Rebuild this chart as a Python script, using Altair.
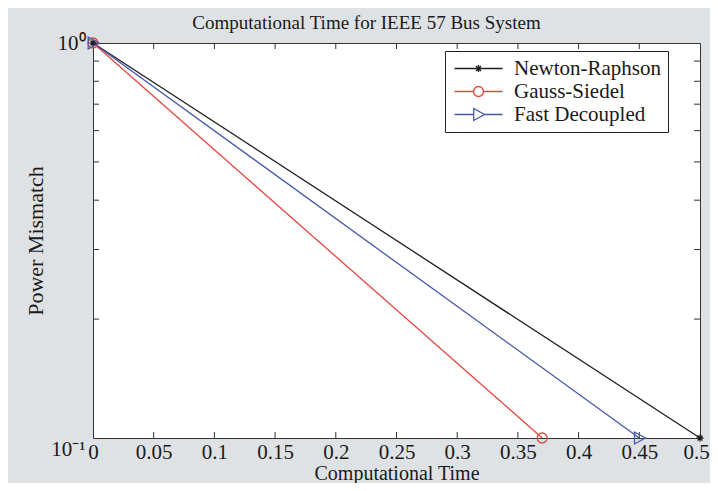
import altair as alt
import pandas as pd

# ---- data ----
series = ["Newton-Raphson", "Gauss-Siedel", "Fast Decoupled"]
time_start = [0.0, 0.0, 0.0]
time_end = [0.5, 0.37, 0.45]
mismatch_start = [1.0, 1.0, 1.0]
mismatch_end = [0.1, 0.1, 0.1]

x_tick_values = [0, 0.05, 0.1, 0.15, 0.2, 0.25, 0.3, 0.35, 0.4, 0.45, 0.5]
x_inner_ticks = [0.05, 0.1, 0.15, 0.2, 0.25, 0.3, 0.35, 0.4, 0.45]
y_tick_values = [0.1, 1]
y_minor_ticks = [0.2, 0.3, 0.4, 0.5, 0.6, 0.7, 0.8, 0.9]

# ---- styles ----
colors = ["#1e1e1e", "#e2463f", "#4758a6"]
marker_shapes = [
    "M-1,0H1M0,-1V1M-0.7,-0.7L0.7,0.7M-0.7,0.7L0.7,-0.7",
    "circle",
    "M-0.8,-1L1,0L-0.8,1Z",
]
marker_sizes = [49, 100, 144]
legend_paths = [
    "M-4,0H4M-0.6,0H0.6M0,-0.6V0.6M-0.42,-0.42L0.42,0.42M-0.42,0.42L0.42,-0.42",
    "M-4,0H-0.83M0.83,0H4M0.83,0A0.83,0.83,0,1,1,-0.83,0A0.83,0.83,0,1,1,0.83,0",
    "M-4,0H-0.8M1,0H4M-0.8,-1L1,0L-0.8,1Z",
]
FONT = "Liberation Serif"
INK = "#1a1a1a"
W, H = 607, 395

rows = []
for s, t0, t1, m0, m1 in zip(series, time_start, time_end, mismatch_start, mismatch_end):
    rows.append({"series": s, "time": t0, "mismatch": m0})
    rows.append({"series": s, "time": t1, "mismatch": m1})
df = pd.DataFrame(rows)

x_scale = alt.Scale(domain=[0, 0.5], nice=False, zero=False)
y_scale = alt.Scale(type="log", domain=[0.1, 1], nice=False)
color_scale = alt.Scale(domain=series, range=colors)

x_axis = alt.Axis(
    values=x_tick_values, format="~g", domain=False, ticks=False, labelFlush=False,
    labelOverlap=False, grid=False, labelFont=FONT, labelFontSize=21, labelColor=INK,
    labelPadding=3,
    labelOffset={"condition": {"test": "datum.value >= 0.5", "value": -4}, "value": 0},
    title="Computational Time", titleFont=FONT, titleFontSize=20,
    titleFontWeight="normal", titleColor=INK, titleBaseline="alphabetic",
    titleAlign="center", titleX=W / 2, titleY=41,
)
y_axis = alt.Axis(
    values=y_tick_values, labelExpr="datum.value >= 1 ? '10\u2070' : '10\u207b\u00b9'",
    labelBaseline={"condition": {"test": "datum.value < 0.5", "value": "top"}, "value": "middle"},
    domain=False, ticks=False, grid=False, labelFont=FONT, labelOverlap=False,
    labelFontSize=21, labelColor=INK, labelPadding=8,
    title="Power Mismatch", titleFont=FONT, titleFontSize=22,
    titleFontWeight="normal", titleColor=INK, titleBaseline="alphabetic",
    titleAlign="center", titleAngle=270, titleX=-51, titleY=H / 2,
)

base = alt.Chart(df)

# lines, one layer per series (drawn in legend order); first carries the axes
line_layers = []
for i, (s, c) in enumerate(zip(series, colors)):
    sub = base.transform_filter(alt.datum.series == s)
    if i == 0:
        enc = dict(x=alt.X("time:Q", scale=x_scale, axis=x_axis),
                   y=alt.Y("mismatch:Q", scale=y_scale, axis=y_axis))
    else:
        enc = dict(x=alt.X("time:Q", scale=x_scale), y=alt.Y("mismatch:Q", scale=y_scale))
    line_layers.append(sub.mark_line(color=c, strokeWidth=1.3).encode(**enc))

point_layers = []
for s, c, shp, sz in zip(series, colors, marker_shapes, marker_sizes):
    sub = base.transform_filter(alt.datum.series == s)
    point_layers.append(
        sub.mark_point(shape=shp, size=sz, color=c, filled=False, strokeWidth=1.3, opacity=1)
        .encode(x=alt.X("time:Q", scale=x_scale), y=alt.Y("mismatch:Q", scale=y_scale))
    )

# legend (generated from the scales, no marks drawn)
legend_layer = base.transform_filter("false").mark_point(filled=False, strokeWidth=1.3, opacity=1).encode(
    x=alt.X("time:Q", scale=x_scale),
    y=alt.Y("mismatch:Q", scale=y_scale),
    color=alt.Color("series:N", scale=color_scale,
                    legend=alt.Legend(title=None, orient="none", legendX=352, legendY=8)),
    shape=alt.Shape("series:N", scale=alt.Scale(domain=series, range=legend_paths),
                    legend=alt.Legend(title=None, orient="none", legendX=352, legendY=8)),
)

# inward MATLAB-style ticks
xt = pd.DataFrame({"v": x_inner_ticks})
yt = pd.DataFrame({"v": y_minor_ticks})
tick_style = dict(color="#333333", strokeWidth=1)
ticks = [
    alt.Chart(xt).mark_rule(**tick_style).encode(x=alt.X("v:Q", scale=x_scale), y=alt.value(H), y2=alt.value(H - 6)),
    alt.Chart(xt).mark_rule(**tick_style).encode(x=alt.X("v:Q", scale=x_scale), y=alt.value(0), y2=alt.value(6)),
    alt.Chart(yt).mark_rule(**tick_style).encode(y=alt.Y("v:Q", scale=y_scale), x=alt.value(0), x2=alt.value(6)),
    alt.Chart(yt).mark_rule(**tick_style).encode(y=alt.Y("v:Q", scale=y_scale), x=alt.value(W), x2=alt.value(W - 6)),
]

chart = alt.layer(*line_layers, *ticks, *point_layers, legend_layer).properties(
    width=W, height=H,
    title=alt.TitleParams(
        "Computational Time for IEEE 57 Bus System", font=FONT, fontSize=19,
        fontWeight="normal", color=INK, anchor="middle", frame="group", offset=8,
        dy=9, dx=-30,
    ),
    autosize=alt.AutoSizeParams(type="none"),
    padding={"left": 85, "top": 35, "right": 10, "bottom": 45},
    background="#dfe2e5",
).configure_view(
    stroke="#333333", strokeWidth=1, fill="white"
).configure_legend(
    fillColor="white", strokeColor="#222222", padding=7, cornerRadius=0,
    labelFont=FONT, labelFontSize=21, labelColor=INK, symbolSize=144,
    symbolStrokeWidth=1.3, symbolOffset=16, labelOffset=25, rowPadding=1,
    labelLimit=400,
)

chart.save("out.html", embed_options={"renderer": "svg", "actions": False})
